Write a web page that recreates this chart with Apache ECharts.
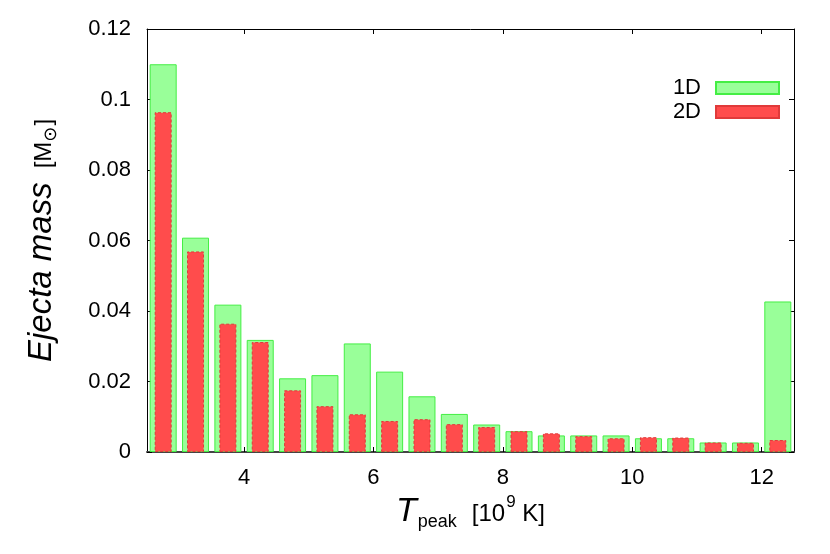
<!DOCTYPE html>
<html>
<head>
<meta charset="utf-8">
<script src="https://cdn.jsdelivr.net/npm/echarts@6/dist/echarts.min.js"></script>
<style>
  html, body { margin: 0; padding: 0; background: #fff; }
  #chart { width: 830px; height: 554px; }
</style>
</head>
<body>
<div id="chart"></div>
<script>
// bar centres (10^9 K) and ejecta mass (M_sun)
const tpeak = [2.75, 3.25, 3.75, 4.25, 4.75, 5.25, 5.75, 6.25, 6.75, 7.25,
               7.75, 8.25, 8.75, 9.25, 9.75, 10.25, 10.75, 11.25, 11.75, 12.25];
const mass1D = [0.110, 0.0608, 0.0418, 0.0318, 0.0209, 0.0218, 0.0308, 0.0228, 0.0158, 0.0108,
                0.0078, 0.0059, 0.0047, 0.0047, 0.0047, 0.0039, 0.0039, 0.0027, 0.0027, 0.0427];
const mass2D = [0.0964, 0.0569, 0.0364, 0.0312, 0.0175, 0.0130, 0.0107, 0.0088, 0.0093, 0.0079,
                0.0071, 0.0059, 0.0053, 0.0045, 0.0039, 0.0042, 0.0041, 0.0027, 0.0026, 0.0034];
const xTicks = [4, 6, 8, 10, 12];
const seriesNames = ['1D', '2D'];

const font = 'Liberation Sans, Arial, Helvetica, sans-serif';

let myChart = echarts.init(document.getElementById('chart'));

function pairs(xs, ys) {
  return xs.map((x, i) => [x, ys[i]]);
}

const tickStyle = { show: true, inside: true, length: 5, lineStyle: { color: '#000', width: 1 } };

myChart.setOption({
  animation: false,
  textStyle: { fontFamily: font, color: '#000' },
  grid: { left: 147, right: 36, top: 29, bottom: 102 },
  legend: {
    orient: 'vertical',
    right: 45,
    top: 71,
    align: 'right',
    itemWidth: 63,
    itemHeight: 12,
    itemGap: 0,
    icon: 'rect',
    data: seriesNames,
    textStyle: { fontSize: 22, fontFamily: font, color: '#000', lineHeight: 24, padding: [0, 10, 0, 0] }
  },
  xAxis: [
    {
      type: 'value',
      position: 'bottom',
      min: 2.5,
      max: 12.5,
      splitLine: { show: false },
      axisLine: { show: true, onZero: false, lineStyle: { color: '#444', width: 2 } },
      axisTick: Object.assign({ customValues: xTicks }, tickStyle),
      axisLabel: { customValues: xTicks, fontSize: 22, color: '#000', margin: 15, fontFamily: font },
      name: '{t|T}{s|peak}{g|[10}{p|9}{u| K]}',
      nameLocation: 'middle',
      nameGap: 40,
      nameTextStyle: {
        rich: {
          t: { fontSize: 34, fontStyle: 'italic', fontFamily: font, color: '#000' },
          s: { fontSize: 18, fontFamily: font, color: '#000', padding: [21, 0, 0, 1] },
          g: { fontSize: 24, fontFamily: font, color: '#000', padding: [5, 0, 0, 15] },
          p: { fontSize: 17, fontFamily: font, color: '#000', padding: [0, 0, 19, 1] },
          u: { fontSize: 24, fontFamily: font, color: '#000', padding: [5, 0, 0, 0] }
        }
      }
    },
    {
      type: 'value',
      position: 'top',
      min: 2.5,
      max: 12.5,
      splitLine: { show: false },
      axisLine: { show: true, onZero: false, lineStyle: { color: '#000', width: 1 } },
      axisTick: Object.assign({ customValues: xTicks }, tickStyle),
      axisLabel: { show: false }
    }
  ],
  yAxis: [
    {
      type: 'value',
      position: 'left',
      min: 0,
      max: 0.12,
      interval: 0.02,
      splitLine: { show: false },
      axisLine: { show: true, onZero: false, lineStyle: { color: '#000', width: 1 } },
      axisTick: tickStyle,
      axisLabel: { fontSize: 22, color: '#000', margin: 16, fontFamily: font },
      name: '{e|Ejecta mass}{m|[M}{o|⊙}{b|]}',
      nameLocation: 'middle',
      nameRotate: 90,
      nameGap: 87,
      nameTextStyle: {
        rich: {
          e: { fontSize: 33, fontStyle: 'italic', fontFamily: font, color: '#000' },
          m: { fontSize: 24, fontFamily: font, color: '#000', padding: [4, 0, 0, 14] },
          o: { fontSize: 18, fontFamily: 'DejaVu Sans', color: '#000', padding: [18, 1, 0, 0] },
          b: { fontSize: 24, fontFamily: font, color: '#000', padding: [4, 0, 0, 0] }
        }
      }
    },
    {
      type: 'value',
      position: 'right',
      min: 0,
      max: 0.12,
      interval: 0.02,
      splitLine: { show: false },
      axisLine: { show: true, onZero: false, lineStyle: { color: '#000', width: 1 } },
      axisTick: tickStyle,
      axisLabel: { show: false }
    }
  ],
  series: [
    {
      name: '1D',
      type: 'bar',
      xAxisIndex: 0,
      yAxisIndex: 0,
      barWidth: 27,
      itemStyle: { color: '#99ff99', borderColor: '#44ee44', borderWidth: 1 },
      data: pairs(tpeak, mass1D)
    },
    {
      name: '2D',
      type: 'bar',
      xAxisIndex: 1,
      yAxisIndex: 0,
      barWidth: 17,
      itemStyle: { color: '#ff4c4c', borderColor: '#e03a3a', borderWidth: 1, borderType: [3, 2] },
      data: pairs(tpeak, mass2D)
    }
  ]
});
</script>
</body>
</html>
